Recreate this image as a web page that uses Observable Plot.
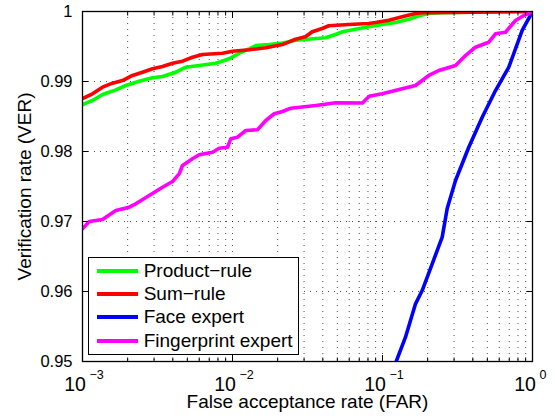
<!DOCTYPE html>
<html><head><meta charset="utf-8">
<script src="https://cdn.jsdelivr.net/npm/d3@7"></script>
<script src="https://cdn.jsdelivr.net/npm/@observablehq/plot@0.6"></script>
<style>
body{margin:0;background:#fff;}
#wrap{position:relative;width:555px;height:419px;font-family:"Liberation Sans",Arial,Helvetica,sans-serif;}
#legend{position:absolute;left:88px;top:257px;width:211px;height:98px;box-sizing:border-box;border:1.3px solid #000;background:#fff;padding-top:1px;}
.row{height:23.3px;display:flex;align-items:center;font-size:19px;color:#000;white-space:nowrap;}
.sw{width:41px;height:4px;margin-left:7.7px;margin-right:6px;flex:none;}
</style></head><body><div id="wrap"></div>
<script>
const seriesNames = ["Product\u2212rule", "Sum\u2212rule", "Face expert", "Fingerprint expert"];
const seriesColors = ["#00ff00", "#ff0000", "#0000ff", "#ff00ff"];

const productFAR = [0.001,0.001166,0.001359,0.001668,0.001944,0.002388,0.002929,0.003415,0.004188,0.004883,0.005998,0.007739,0.009506,0.01108,0.01292,0.0143,0.01757,0.02154,0.02372,0.0263,0.04169,0.04861,0.05387,0.06607,0.081,0.09954,0.1221,0.1497,0.1746,0.2036,0.25,0.5,1];
const productVER = [0.98671,0.98729,0.98814,0.98881,0.98943,0.99004,0.99053,0.99071,0.99133,0.99204,0.99229,0.99261,0.99324,0.99404,0.99467,0.99514,0.99529,0.99550,0.99567,0.99590,0.99624,0.99671,0.99710,0.99747,0.99781,0.99814,0.99843,0.99890,0.99939,0.99971,0.99983,0.99992,1];

const sumFAR = [0.001,0.001166,0.001359,0.001585,0.001848,0.002154,0.002512,0.002929,0.003415,0.003981,0.004642,0.005412,0.00631,0.008577,0.01,0.01292,0.01668,0.02154,0.02256,0.0263,0.03067,0.034,0.03963,0.04385,0.05962,0.081,0.08982,0.1102,0.1353,0.166,0.1839,0.4,1];
const sumVER = [0.98757,0.98824,0.98919,0.98976,0.99014,0.99086,0.99133,0.99181,0.99214,0.99261,0.99290,0.99347,0.99386,0.99404,0.99433,0.99453,0.99481,0.99529,0.99545,0.99604,0.99639,0.99710,0.99757,0.99796,0.99814,0.99829,0.99843,0.99876,0.99924,0.99971,0.99983,0.99990,1];

const faceFAR = [0.115,0.1234,0.1423,0.166,0.1839,0.2145,0.25,0.27,0.3067,0.376,0.4621,0.5666,0.695,0.8536,1];
const faceVER = [0.9485,0.95,0.95347,0.95824,0.96014,0.96396,0.96776,0.97186,0.97586,0.98061,0.9849,0.98871,0.99204,0.99729,1];

const fingerFAR = [0.001,0.001108,0.001359,0.001668,0.002048,0.002266,0.002784,0.003415,0.003981,0.004413,0.004642,0.005412,0.005998,0.007356,0.008154,0.009261,0.00974,0.0108,0.01227,0.01468,0.01668,0.01897,0.02154,0.02447,0.03592,0.04883,0.07356,0.08152,0.09954,0.1353,0.166,0.2036,0.2373,0.3067,0.3576,0.4169,0.5113,0.5666,0.6607,0.7702,0.875,1];
const fingerVER = [0.96896,0.97,0.97029,0.97157,0.97204,0.97253,0.97371,0.9749,0.97571,0.97681,0.978,0.97896,0.97953,0.9799,0.98047,0.98061,0.98181,0.98204,0.983,0.9831,0.98443,0.98539,0.98571,0.98619,0.98657,0.98696,0.98693,0.9879,0.98824,0.98896,0.98943,0.99086,0.99157,0.99229,0.99371,0.9949,0.99561,0.99681,0.99704,0.99871,0.99943,1];

const xMajor = [0.001, 0.01, 0.1, 1];
const xTickBase = ["10", "10", "10", "10"];
const xTickExp = ["\u22123", "\u22122", "\u22121", "0"];
const xMinor = [];
for (const d of xMajor.slice(0, 3)) for (let k = 2; k <= 9; k++) xMinor.push(d * k);
const yTicks = [0.95, 0.96, 0.97, 0.98, 0.99, 1];
const yTickLabels = ["0.95", "0.96", "0.97", "0.98", "0.99", "1"];
const xTitle = ["False acceptance rate (FAR)"];
const yTitle = ["Verification rate (VER)"];

const series = [
  {far: productFAR, ver: productVER},
  {far: sumFAR, ver: sumVER},
  {far: faceFAR, ver: faceVER},
  {far: fingerFAR, ver: fingerVER}
].map((s, i) => ({name: seriesNames[i], color: seriesColors[i], data: s.far.map((f, j) => ({far: f, ver: s.ver[j]}))}));

const gridStyle = {stroke: "#000", strokeOpacity: 0.7, strokeDasharray: "1,5"};

const chart = Plot.plot({
  width: 555, height: 419,
  marginLeft: 82, marginRight: 23, marginTop: 11, marginBottom: 58,
  style: {fontFamily: "Liberation Sans, Arial, Helvetica, sans-serif", fontSize: "16.5px", background: "white", color: "black", overflow: "visible"},
  x: {type: "log", domain: [0.001, 1], label: null},
  y: {domain: [0.95, 1], label: null},
  marks: [
    Plot.gridX(xMajor.slice(1, 3).concat(xMinor), gridStyle),
    Plot.gridY(yTicks.slice(1, 5), gridStyle),
    ...series.map(s => Plot.line(s.data, {x: "far", y: "ver", stroke: s.color, strokeWidth: 3.6, strokeLinejoin: "round", clip: true})),
    Plot.axisX(xMajor, {anchor: "bottom", tickSize: -6, tickFormat: () => "", label: null}),
    Plot.axisX(xMinor, {anchor: "bottom", tickSize: -3.5, tickFormat: () => "", label: null}),
    Plot.axisX(xMajor, {anchor: "top", tickSize: -6, tickFormat: () => "", label: null}),
    Plot.axisX(xMinor, {anchor: "top", tickSize: -3.5, tickFormat: () => "", label: null}),
    Plot.axisY(yTicks, {anchor: "left", tickSize: -6, tickFormat: () => "", label: null}),
    Plot.axisY(yTicks, {anchor: "right", tickSize: -6, tickFormat: () => "", label: null}),
    Plot.text(yTicks, {y: d => d, frameAnchor: "left", text: (d, i) => yTickLabels[i], textAnchor: "end", lineAnchor: "middle", dx: -10, fontSize: 16.5}),
    Plot.text(xMajor, {x: d => d, frameAnchor: "bottom", text: (d, i) => xTickBase[i], textAnchor: "middle", lineAnchor: "middle", dx: -7.5, dy: 23, fontSize: 19.5}),
    Plot.text(xMajor, {x: d => d, frameAnchor: "bottom", text: (d, i) => xTickExp[i], textAnchor: "start", lineAnchor: "middle", dx: 7, dy: 13.5, fontSize: 12.5}),
    Plot.text(xTitle, {frameAnchor: "bottom", textAnchor: "middle", lineAnchor: "middle", dy: 40, fontSize: 19}),
    Plot.text(yTitle, {frameAnchor: "left", textAnchor: "middle", lineAnchor: "middle", rotate: -90, dx: -58, fontSize: 19}),
    Plot.frame({stroke: "#000", strokeWidth: 1.3})
  ]
});

const wrap = document.getElementById("wrap");
wrap.appendChild(chart);
const legend = document.createElement("div");
legend.id = "legend";
series.forEach(s => {
  const row = document.createElement("div");
  row.className = "row";
  const sw = document.createElement("span");
  sw.className = "sw";
  sw.style.background = s.color;
  const label = document.createElement("span");
  label.textContent = s.name;
  row.appendChild(sw);
  row.appendChild(label);
  legend.appendChild(row);
});
wrap.appendChild(legend);
</script>
</body></html>
